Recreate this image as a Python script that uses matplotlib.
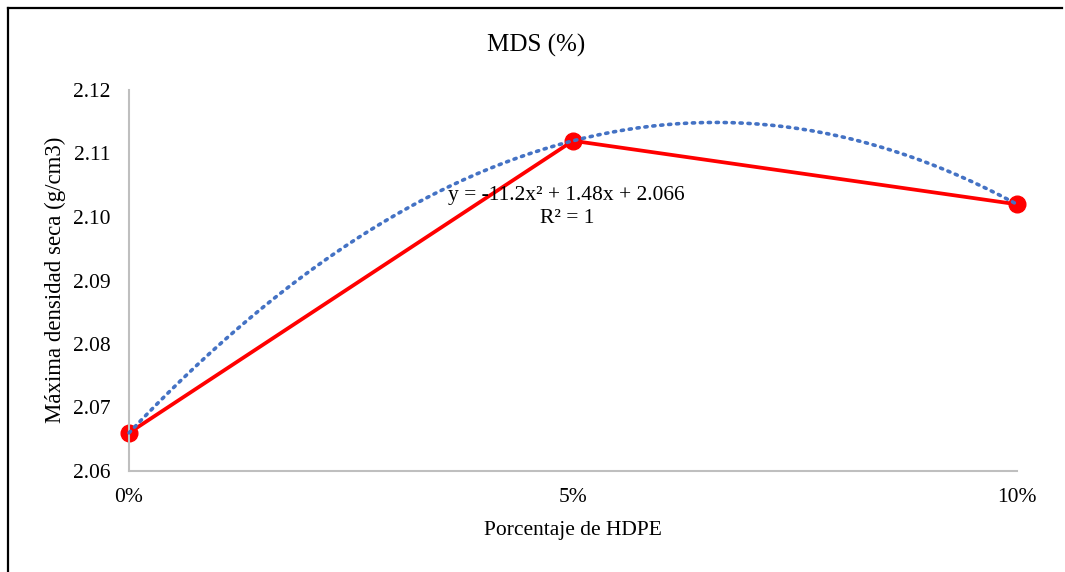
import numpy as np
import matplotlib.pyplot as plt
from matplotlib.lines import Line2D

plt.rcParams['font.family'] = ['Liberation Serif', 'DejaVu Serif']

# data
hdpe = [0.0, 0.05, 0.10]
tick_labels = ["0%", "5%", "10%"]
mds = [2.066, 2.112, 2.102]
y_ticks = [2.06, 2.07, 2.08, 2.09, 2.10, 2.11, 2.12]

# polynomial trendline (order 2) as in the Excel chart
coef = np.polyfit(hdpe, mds, 2)
xs = np.linspace(0, 0.10, 200)
ys = np.polyval(coef, xs)

fig = plt.figure(figsize=(10.65, 5.72), dpi=100)
ax = fig.add_axes([129/1065, 1 - 471/572, (1017 - 129)/1065, (471 - 90)/572])

ax.plot(xs, ys, color='#4472C4', linestyle=(0, (0.6, 1.6)), linewidth=2.6,
        dash_capstyle='round', zorder=3, clip_on=False)
ax.plot(hdpe, mds, color='#FF0000', linewidth=2.7, marker='o', markersize=12,
        markerfacecolor='#FF0000', markeredgecolor='#FF0000', zorder=2, clip_on=False)

ax.set_xlim(0, 0.10)
ax.set_ylim(2.06, 2.12)
ax.set_xticks(hdpe)
ax.set_xticklabels(tick_labels)
ax.set_yticks(y_ticks)
ax.set_yticklabels([f"{v:.2f}" for v in y_ticks])
ax.tick_params(length=0, labelsize=15.5)
ax.tick_params(axis='y', pad=13.5)
ax.tick_params(axis='x', pad=12.5)

for s in ['top', 'right']:
    ax.spines[s].set_visible(False)
for s in ['left', 'bottom']:
    ax.spines[s].set_color('#BFBFBF')
    ax.spines[s].set_linewidth(1.5)

ax.text(0.0493, 2.1016, "y = -11.2x\u00b2 + 1.48x + 2.066\nR\u00b2 = 1", ha='center', va='center',
        fontsize=15.5, multialignment='center', linespacing=1.3, zorder=4)

fig.text(536/1065, 1 - 45/572, "MDS (%)", ha='center', va='center', fontsize=18)
fig.text(573/1065, 1 - 530/572, "Porcentaje de HDPE", ha='center', va='center', fontsize=15.5)
fig.text(55/1065, 1 - 280/572, "Máxima densidad seca (g/cm3)", ha='center', va='center',
         rotation=90, fontsize=16.5)

# chart frame (left and top edges visible)
fig.add_artist(Line2D([8/1065, 8/1065], [0, 1 - 8/572], transform=fig.transFigure,
                      color='black', linewidth=1.6))
fig.add_artist(Line2D([8/1065, 1062/1065], [1 - 8/572, 1 - 8/572], transform=fig.transFigure,
                      color='black', linewidth=1.6))

fig.savefig("out.png", dpi=100)
